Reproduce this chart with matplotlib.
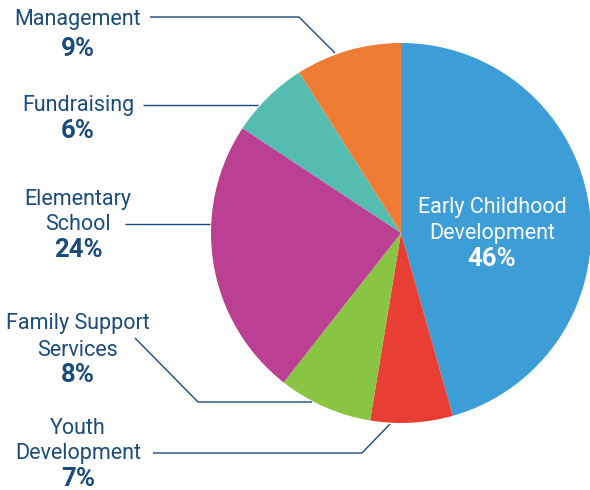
import matplotlib
matplotlib.use("Agg")
import matplotlib.pyplot as plt

categories = ["Early Childhood\nDevelopment", "Youth\nDevelopment", "Family Support\nServices",
              "Elementary\nSchool", "Fundraising", "Management"]
values = [45.6, 7.0, 8.0, 23.7, 6.7, 9.0]
pct_labels = ["46%", "7%", "8%", "24%", "6%", "9%"]
colors = ["#3d9dd7", "#e83e33", "#89c442", "#bb3f92", "#55bdb0", "#ef7c34"]

W, H = 590, 490
fig = plt.figure(figsize=(W / 100, H / 100), dpi=100)
ax = fig.add_axes([0, 0, 1, 1])

def Y(y):
    return H - y

cx, cy, r = 401, 233, 190
ax.pie(values, colors=colors, startangle=90, counterclock=False,
       center=(cx, Y(cy)), radius=r, wedgeprops=dict(linewidth=0), frame=True)
ax.set_xlim(0, W)
ax.set_ylim(0, H)
ax.set_aspect("equal")
ax.axis("off")

navy = "#1b4b7b"
font = "Roboto"
lab_fs = 15.5
pct_fs = 18.5

# label blocks: (category index, x, first line y, pct y)
blocks = [
    (5, 78, 20, 49),
    (4, 78, 106, 131),
    (3, 78, 199, 250),
    (2, 78, 324, 375),
    (1, 78, 428, 479),
]
for idx, x, y0, yp in blocks:
    for i, t in enumerate(categories[idx].split("\n")):
        ax.text(x, Y(y0 + 26 * i), t, ha="center", va="center", color=navy,
                fontsize=lab_fs, family=font)
    ax.text(x, Y(yp), pct_labels[idx], ha="center", va="center", color=navy,
            fontsize=pct_fs, family=font, fontweight="bold")

# inside label
for i, t in enumerate(categories[0].split("\n")):
    ax.text(492, Y(207 + 27 * i), t, ha="center", va="center", color="white",
            fontsize=lab_fs, family=font)
ax.text(492, Y(259), pct_labels[0], ha="center", va="center", color="white",
        fontsize=pct_fs, family=font, fontweight="bold")

# leader lines
leaders = [
    [(150, 17), (299, 17), (335, 53)],
    [(143, 105), (258, 105)],
    [(125, 224), (210, 224)],
    [(135, 338), (198, 402), (312, 402)],
    [(153, 453), (362, 453), (390, 424)],
]
for pts in leaders:
    xs = [p[0] for p in pts]
    ys = [Y(p[1]) for p in pts]
    ax.plot(xs, ys, color=navy, linewidth=1.0, solid_capstyle="butt")

fig.savefig("out.png", dpi=100, facecolor="white")
